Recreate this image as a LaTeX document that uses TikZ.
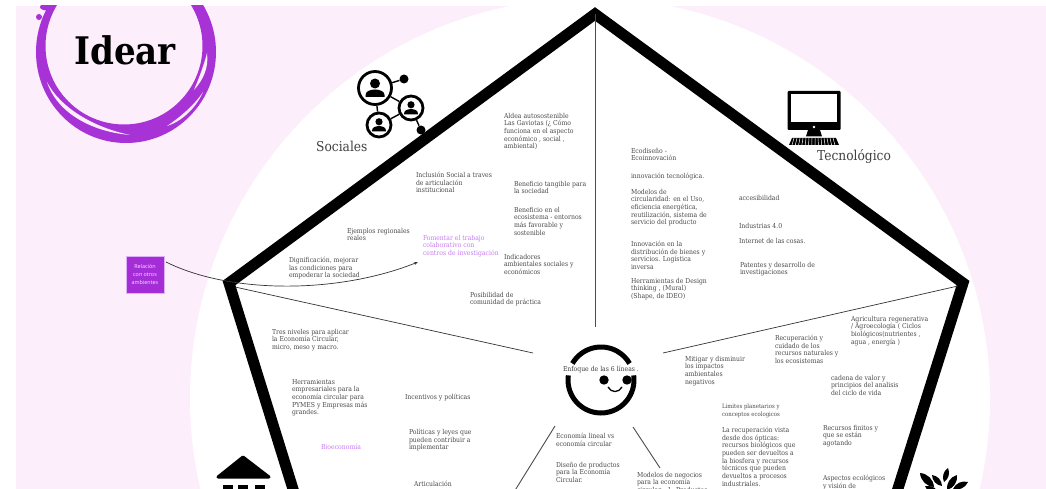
\documentclass[tikz,border=0pt]{standalone}
\usepackage{fontspec}
\usetikzlibrary{arrows.meta}
\newfontfamily\slab{DejaVu Serif Condensed}
\newfontfamily\plainsans{Open Sans}
\definecolor{pinkbg}{HTML}{FCEEFA}
\definecolor{ringc}{HTML}{A733D6}
\definecolor{boxc}{HTML}{A52DD8}
\definecolor{violetc}{HTML}{C77CF2}
\definecolor{txtc}{HTML}{4A4A4A}
\tikzset{
  txt/.style={anchor=north west,inner sep=0pt,outer sep=0pt,align=left,text=txtc,font=\slab\fontsize{6.8}{7.7}\selectfont},
  vio/.style={txt,text=violetc},
  head/.style={anchor=base west,inner sep=0pt,text=black!75,font=\slab\fontsize{13.6}{15}\selectfont},
  spoke/.style={draw=black!70,line width=0.9pt},
  thinline/.style={draw=black!80,line width=0.7pt},
  wall/.style={draw=black,line width=11pt,miter limit=10},
  ringc2/.style={circle,draw=black,line width=2.8pt,inner sep=0pt,fill=white},
  dotc/.style={circle,fill=black,inner sep=0pt,minimum size=9pt},
  hl/.style={fill=pinkbg}
}
\newcommand{\personfig}[3]{\begin{scope}[shift={(#1,#2)},scale=#3]
\fill (0,-4.5) circle (5);
\fill (-9.5,9) -- (-9.5,7) .. controls (-9.5,3.5) and (-5,1.5) .. (0,1.5) .. controls (5,1.5) and (9.5,3.5) .. (9.5,7) -- (9.5,9) -- cycle;
\end{scope}}
\newcommand{\leaffig}[4]{\fill (#1,#2) to[bend left=40] (#3,#4) to[bend left=40] (#1,#2) -- cycle;}
\begin{document}
\begin{tikzpicture}[x=1pt,y=-1pt]
\clip (0,0) rectangle (1046,489);
\useasboundingbox (0,0) rectangle (1046,489);
\fill[white] (0,0) rectangle (1046,489);
\fill[pinkbg] (16,6) rectangle (1046,489);
\fill[white] (590,398) circle (400);

% Idear ring
\begin{scope}
\clip (16,6) rectangle (300,200);
\fill[ringc,even odd rule] (126,52) ellipse [x radius=90,y radius=91] (124,46) circle (78.5);
\fill[ringc] (47,7) ellipse [x radius=7,y radius=3.5];
\fill[ringc] (39,17) circle (3);
\fill[hl] (47,82) .. controls (55,108) and (85,131) .. (130,135) .. controls (92,127) and (60,107) .. (47,82) -- cycle;
\fill[hl] (167,126) .. controls (180,122) and (195,110) .. (203,92) .. controls (196,103) and (182,116) .. (167,126) -- cycle;
\fill[hl] (207,53) .. controls (209,68) and (203,80) .. (194,90) .. controls (199,78) and (204,65) .. (207,53) -- cycle;
\end{scope}
\node[anchor=base west,inner sep=0pt,font=\slab\bfseries\fontsize{38}{40}\selectfont] (idear) at (74,65) {Idear};

% Structure
\coordinate (apex) at (595,14);
\coordinate (vl) at (229,283);
\coordinate (vr) at (963,283);
\coordinate (bl) at (302.6,520);
\coordinate (br) at (888,520);
\draw[wall] (bl) -- (vl) -- (apex) -- (vr) -- (br);
\coordinate (cv) at (595,327);
\coordinate (sl1) at (235,287);
\coordinate (sl2) at (533,353);
\coordinate (sr1) at (958,286);
\coordinate (sr2) at (663,353);
\coordinate (sb1) at (555,426);
\coordinate (sb2) at (514,492);
\coordinate (sc1) at (633,427);
\coordinate (sc2) at (660,468);
\draw[spoke] (apex) -- (cv);
\draw[thinline] (sl1) -- (sl2);
\draw[thinline] (sr1) -- (sr2);
\draw[spoke] (sb1) -- (sb2);
\draw[spoke] (sc1) -- (sc2);

% Related box and arrow
\node[fill=boxc,draw=violetc!60,line width=0.4pt,minimum width=38pt,minimum height=37pt,inner sep=0pt,align=center,text=white!88!boxc,font=\plainsans\fontsize{5.4}{8}\selectfont] (relbox) at (145,274.5) {Relación\\con otros\\ambientes};
\coordinate (arrS) at (166,262);
\coordinate (arrE) at (418,262);
\draw[thinline,-{Stealth[length=4pt,width=3pt]}] (arrS) .. controls (230,294) and (338,294) .. (arrE);

% Social icon
\node[ringc2,minimum size=33pt] (c1) at (375,88) {};
\node[ringc2,minimum size=24pt] (c2) at (411,108) {};
\node[ringc2,minimum size=24pt] (c3) at (379,125) {};
\node[dotc] (d1) at (404,79) {};
\node[dotc] (d2) at (421,130) {};
\draw[line width=1.4pt] (c1) -- (d1);
\draw[line width=1.4pt] (c1) -- (c2);
\draw[line width=1.4pt] (c1) -- (c3);
\draw[line width=1.4pt] (c2) -- (c3);
\draw[line width=1.4pt] (c2) -- (d2);
\personfig{375}{88}{1}
\personfig{411}{108}{0.72}
\personfig{379}{125}{0.72}

% Computer icon
\fill[rounded corners=1pt] (787.5,91) rectangle (840.5,130);
\fill[white] (790.7,94) rectangle (837,122);
\fill[white] (814,127) circle (1.4);
\fill (808,130) -- (820,130) -- (822,136.5) -- (806,136.5) -- cycle;
\fill (792,138) -- (836,138) -- (839,145) -- (789,145) -- cycle;
\foreach \k in {0,...,13} {\draw[white,line width=0.5pt] (794+3*\k,138) -- (792+3.3*\k,145);}

% Bank icon
\fill[line join=round,draw=black,line width=3pt] (243,457) -- (218,477) -- (269,477) -- cycle;
\fill (223,485) rectangle (233,495);
\fill (238,485) rectangle (248,495);
\fill (255,485) rectangle (265,495);

% Plant icon
\leaffig{920}{473}{934}{487}
\leaffig{932}{475}{942}{486}
\leaffig{948}{468}{944}{482}
\leaffig{957}{475}{947}{490}
\leaffig{968}{482}{953}{489}
\leaffig{925}{486}{940}{495}

% Face
\coordinate (fc) at (601,380);
\draw[line width=5pt] ([shift={(210:33)}]fc) arc[start angle=210,end angle=330,radius=33];
\draw[line width=5pt] ([shift={(188:33)}]fc) arc[start angle=188,end angle=-8,radius=33];
\fill (604,380) circle (4.7);
\fill (627,380) circle (4.7);
\draw[line width=1.3pt] (608,387) .. controls (611,393) and (619,393) .. (622,387);
\node[txt,anchor=west,text=black!75] (enf) at (563,369) {Enfoque de las 6 líneas .};

% Headings
\node[head] (soc) at (316,152) {Sociales};
\node[head] (tec) at (817,161) {Tecnológico};

% Social texts
\node[txt] (t1) at (504,113) {Aldea autosostenible\\Las Gaviotas (¿ Cómo\\funciona en el aspecto\\económico , social ,\\ambiental)};
\node[txt] (t2) at (416,172) {Inclusión Social a traves\\de articulación\\institucional};
\node[txt] (t3) at (514,181) {Beneficio tangible para\\la sociedad};
\node[txt] (t4) at (514,207) {Beneficio en el\\ecosistema - entornos\\más  favorable y\\sostenible};
\node[txt] (t5) at (347,228) {Ejemplos regionales\\reales};
\node[vio] (t6) at (423,235) {Fomentar el trabajo\\colaborativo con\\centros de investigación};
\node[txt] (t7) at (504,254) {Indicadores\\ambientales sociales y\\económicos};
\node[txt] (t8) at (470,292) {Posibilidad de\\comunidad de práctica};
\node[txt] (t9) at (289,257) {Dignificación, mejorar\\las condiciones para\\empoderar la sociedad};

% Political texts
\node[txt] (p1) at (272,329) {Tres niveles para aplicar\\la Economía Circular,\\micro, meso y macro.};
\node[txt] (p2) at (292,379) {Herramientas\\empresariales para la\\economía circular para\\PYMES y Empresas más\\grandes.};
\node[vio] (p3) at (321,444) {Bioeconomía};
\node[txt] (p4) at (405,394) {Incentivos y políticas};
\node[txt] (p5) at (409,429) {Políticas y leyes que\\pueden contribuir a\\implementar};
\node[txt] (p6) at (414,481) {Articulación};

% Centre bottom texts
\node[txt] (m1) at (556,433) {Economía lineal vs\\economía circular};
\node[txt] (m2) at (556,462) {Diseño de productos\\para la Economía\\Circular.};
\node[txt] (m3) at (637,472) {Modelos de negocios\\para la economía\\circular . 1. Productos};

% Ecological texts
\node[txt] (e1) at (685,356) {Mitigar y disminuir\\los impactos\\ambientales\\negativos};
\node[txt,font=\slab\fontsize{6}{7.7}\selectfont] (e2) at (722,404) {Limites planetarios y\\conceptos ecologicos};
\node[txt] (e3) at (722,427) {La recuperación vista\\desde dos ópticas:\\recursos biológicos que\\pueden ser devueltos a\\la biosfera y recursos\\técnicos que pueden\\devueltos a procesos\\industriales.};
\node[txt] (e4) at (823,425) {Recursos finitos y\\que se están\\agotando};
\node[txt] (e5) at (831,375) {cadena de valor y\\principios del analisis\\del ciclo de vida};
\node[txt] (e6) at (775,335) {Recuperación y\\cuidado de los\\recursos naturales y\\los ecosistemas};
\node[txt] (e7) at (851,316) {Agricultura regenerativa\\/ Agroecología ( Ciclos\\biológicos(nutrientes ,\\agua , energía )};
\node[txt] (e8) at (823,475) {Aspectos ecológicos\\y visión de};

% Technological texts
\node[txt] (g1) at (631,148) {Ecodiseño -\\Ecoinnovación};
\node[txt] (g2) at (631,173) {innovación tecnológica.};
\node[txt] (g3) at (631,189) {Modelos de\\circularidad: en el Uso,\\eficiencia energética,\\reutilización, sistema de\\servicio del producto};
\node[txt] (g4) at (631,241) {Innovación en la\\distribución de bienes y\\servicios. Logística\\inversa};
\node[txt] (g5) at (631,278) {Herramientas de Design\\thinking , (Mural)\\(Shape, de IDEO)};
\node[txt] (g6) at (739,195) {accesibilidad};
\node[txt] (g7) at (739,223) {Industrias 4.0};
\node[txt] (g8) at (739,238) {Internet de las cosas.};
\node[txt] (g9) at (740,262) {Patentes y desarrollo de\\investigaciones};
\end{tikzpicture}
\end{document}
